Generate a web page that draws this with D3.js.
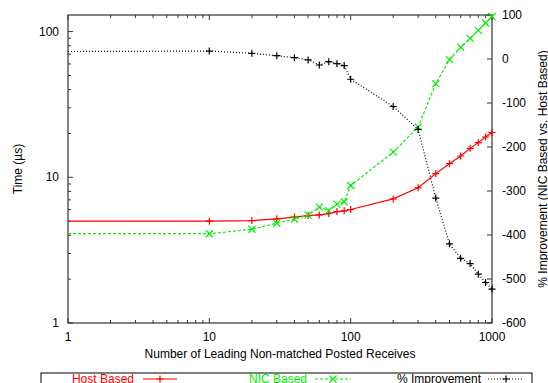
<!DOCTYPE html>
<html>
<head>
    <meta charset="utf-8">
    <script src="https://d3js.org/d3.v7.min.js"></script>
    <style type="text/css">
        body { margin: 0; background: #fff; }
        svg text { font-family: "Liberation Sans", Arial, sans-serif; font-size: 12px; }
    </style>
</head>
<body>
<script type="text/javascript">
    // number of leading non-matched posted receives
    var counts = [1, 10, 20, 30, 40, 50, 60, 70, 80, 90, 100, 200, 300, 400, 500, 600, 700, 800, 900, 1000];
    // time in microseconds
    var hostBased = [5.0, 5.0, 5.05, 5.19, 5.33, 5.46, 5.52, 5.64, 5.82, 5.89, 6.01, 7.11, 8.47, 10.6, 12.4, 14.0, 15.8, 17.3, 18.9, 20.3];
    var nicBased = [4.1, 4.1, 4.4, 4.84, 5.16, 5.5, 6.24, 5.91, 6.54, 6.79, 8.78, 14.9, 22.1, 43.9, 64.2, 78.0, 89.9, 102, 114.5, 127];
    // % improvement, right axis
    var improvement = [17, 18, 13, 7.5, 3, -2, -13.6, -6, -10.7, -15, -46, -108, -160, -316, -420, -453, -465, -489, -508, -523];

    var xTicks = [1, 10, 100, 1000];
    var yTicks = [1, 10, 100];
    var y2Ticks = [100, 0, -100, -200, -300, -400, -500, -600];

    var W = 548, H = 383;
    var pLeft = 68, pRight = 492, pTop = 15, pBottom = 323;

    var svg = d3.select("body").append("svg")
        .attr("width", W).attr("height", H);

    var x = d3.scaleLog().domain([1, 1000]).range([pLeft, pRight]);
    var y = d3.scaleLog().domain([1, 130]).range([pBottom, pTop]);
    var y2 = d3.scaleLinear().domain([-600, 100]).range([pBottom, pTop]);

    // minor ticks for log axes
    function minors(lo, hi) {
        var out = [];
        for (var d = lo; d < hi; d *= 10)
            for (var k = 2; k <= 9; k++) if (d * k <= hi) out.push(d * k);
        return out;
    }

    var axisColor = "#333";
    var g = svg.append("g");

    // x ticks bottom and top (inward)
    xTicks.forEach(function(v) {
        g.append("line").attr("x1", x(v)).attr("x2", x(v)).attr("y1", pBottom).attr("y2", pBottom - 5).attr("stroke", axisColor);
        g.append("line").attr("x1", x(v)).attr("x2", x(v)).attr("y1", pTop).attr("y2", pTop + 5).attr("stroke", axisColor);
        g.append("text").attr("x", x(v)).attr("y", 341).attr("text-anchor", "middle").text(v);
    });
    minors(1, 1000).forEach(function(v) {
        g.append("line").attr("x1", x(v)).attr("x2", x(v)).attr("y1", pBottom).attr("y2", pBottom - 3).attr("stroke", axisColor);
        g.append("line").attr("x1", x(v)).attr("x2", x(v)).attr("y1", pTop).attr("y2", pTop + 3).attr("stroke", axisColor);
    });

    // left y ticks
    yTicks.forEach(function(v) {
        g.append("line").attr("x1", pLeft).attr("x2", pLeft + 5).attr("y1", y(v)).attr("y2", y(v)).attr("stroke", axisColor);
        g.append("text").attr("x", 59).attr("y", y(v) + 4).attr("text-anchor", "end").text(v);
    });
    minors(1, 130).forEach(function(v) {
        g.append("line").attr("x1", pLeft).attr("x2", pLeft + 3).attr("y1", y(v)).attr("y2", y(v)).attr("stroke", axisColor);
    });

    // right y2 ticks
    y2Ticks.forEach(function(v) {
        g.append("line").attr("x1", pRight).attr("x2", pRight - 5).attr("y1", y2(v)).attr("y2", y2(v)).attr("stroke", axisColor);
        g.append("text").attr("x", 502).attr("y", y2(v) + 4).attr("text-anchor", "start").text(v);
    });

    // frame
    g.append("rect").attr("x", pLeft).attr("y", pTop).attr("width", pRight - pLeft).attr("height", pBottom - pTop)
        .attr("fill", "none").attr("stroke", axisColor).attr("stroke-width", 1.2);

    // axis titles
    g.append("text").attr("x", (pLeft + pRight) / 2).attr("y", 358).attr("text-anchor", "middle")
        .text("Number of Leading Non-matched Posted Receives");
    g.append("text").attr("transform", "translate(22," + (pTop + pBottom) / 2 + ") rotate(-90)")
        .attr("text-anchor", "middle").text("Time (\u00b5s)");
    g.append("text").attr("transform", "translate(547," + (pTop + pBottom) / 2 + ") rotate(-90)")
        .attr("text-anchor", "middle").text("% Improvement (NIC Based vs. Host Based)");

    function plus(sel, cx, cy, color) {
        sel.append("path").attr("d", "M" + (cx - 3.5) + "," + cy + "h7M" + cx + "," + (cy - 3.5) + "v7")
            .attr("stroke", color).attr("stroke-width", 1.2).attr("fill", "none");
    }
    function cross(sel, cx, cy, color) {
        sel.append("path").attr("d", "M" + (cx - 3.5) + "," + (cy - 3.5) + "l7,7M" + (cx - 3.5) + "," + (cy + 3.5) + "l7,-7")
            .attr("stroke", color).attr("stroke-width", 1.2).attr("fill", "none");
    }

    var series = [
        { name: "Host Based", vals: hostBased, ys: y, color: "#ff0000", dash: null, width: 1.2, mark: plus },
        { name: "NIC Based", vals: nicBased, ys: y, color: "#00ee00", dash: "3,2", width: 1.2, mark: cross },
        { name: "% Improvement", vals: improvement, ys: y2, color: "#000000", dash: "1,2", width: 1.2, mark: plus }
    ];

    series.forEach(function(s) {
        var line = d3.line()
            .x(function(d, i) { return x(counts[i]); })
            .y(function(d) { return s.ys(d); });
        var sg = svg.append("g");
        sg.append("path").datum(s.vals).attr("d", line)
            .attr("fill", "none").attr("stroke", s.color).attr("stroke-width", s.width)
            .attr("stroke-dasharray", s.dash);
        s.vals.forEach(function(d, i) {
            if (i === 0) return; // first point sits on the border, no marker shown
            s.mark(sg, x(counts[i]), s.ys(d), s.color);
        });
    });

    // legend
    var lg = svg.append("g");
    lg.append("rect").attr("x", 41).attr("y", 373).attr("width", 491).attr("height", 20)
        .attr("fill", "none").attr("stroke", "#000").attr("stroke-width", 1);
    var legendPos = [
        { textEnd: 134, x1: 143, x2: 177 },
        { textEnd: 307, x1: 315, x2: 351 },
        { textEnd: 481, x1: 488, x2: 524 }
    ];
    series.forEach(function(s, i) {
        var p = legendPos[i];
        lg.append("text").attr("x", p.textEnd).attr("y", 383).attr("text-anchor", "end")
            .attr("fill", s.color).text(s.name);
        lg.append("line").attr("x1", p.x1).attr("x2", p.x2).attr("y1", 379).attr("y2", 379)
            .attr("stroke", s.color).attr("stroke-width", s.width).attr("stroke-dasharray", s.dash);
        s.mark(lg, (p.x1 + p.x2) / 2, 379, s.color);
    });
</script>
</body>
</html>
